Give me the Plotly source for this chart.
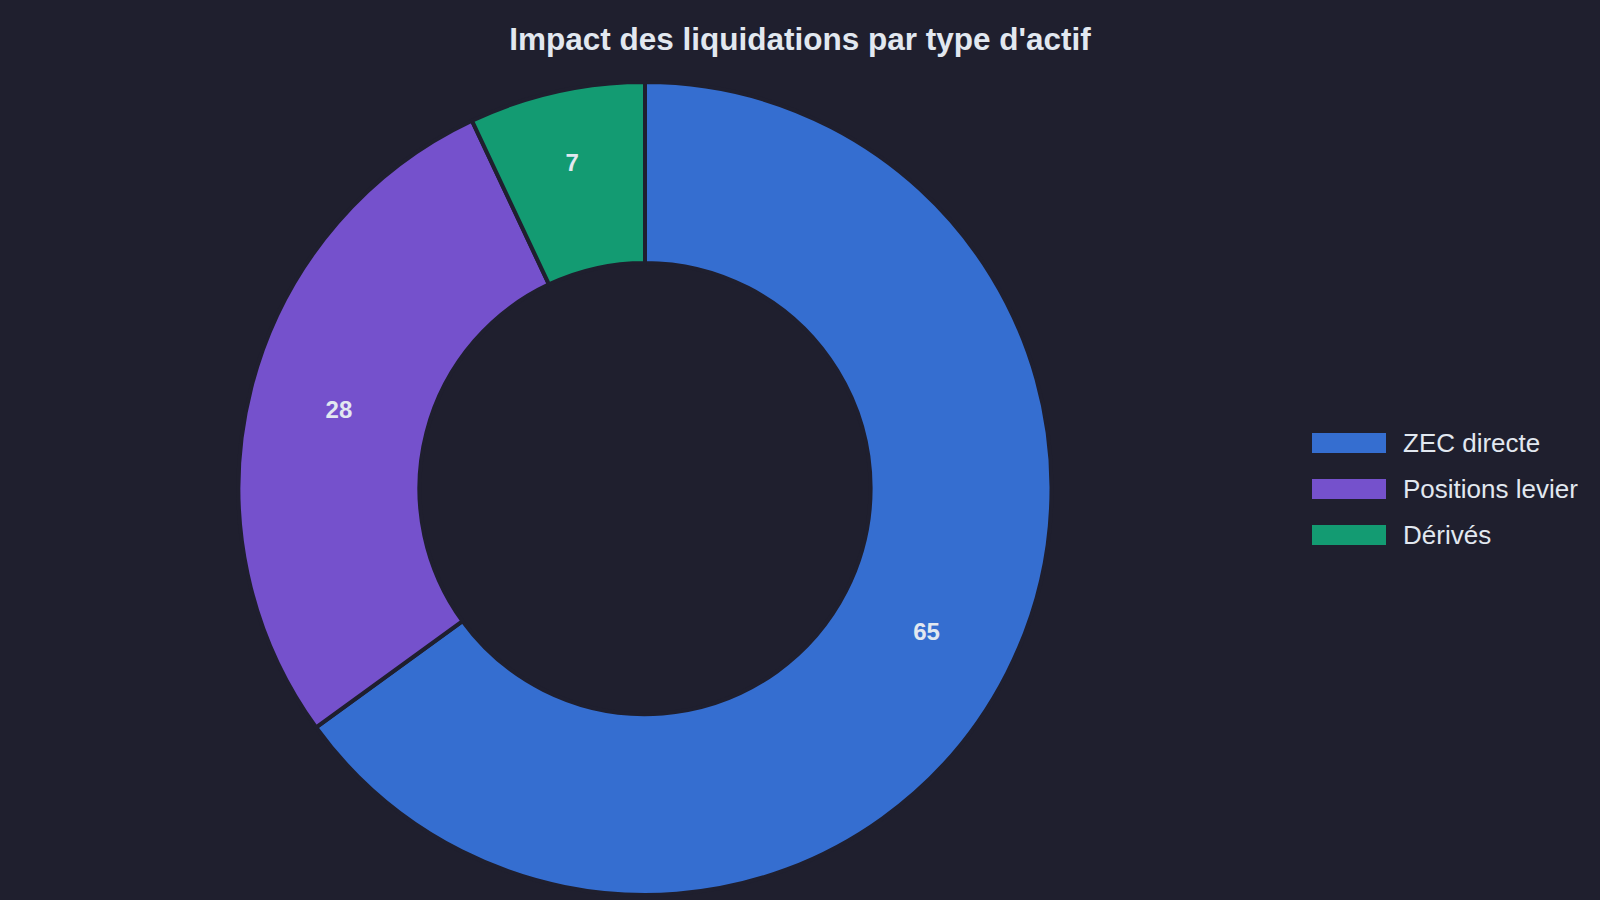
import plotly.graph_objects as go

labels = ["ZEC directe", "Positions levier", "Dérivés"]
values = [65, 28, 7]
colors = ["#356ed0", "#7551cc", "#139b72"]

bg = "#1f1f2e"
txt = "#e2e8f0"
font_family = "Liberation Sans, Arial, sans-serif"

fig = go.Figure()
fig.add_trace(go.Pie(
    labels=labels,
    values=values,
    hole=0.555,
    sort=False,
    direction="clockwise",
    rotation=0,
    marker=dict(colors=colors, line=dict(color=bg, width=4)),
    textinfo="value",
    textposition="inside",
    insidetextorientation="horizontal",
    textfont=dict(family=font_family, size=24, color=txt, weight="bold"),
    domain=dict(x=[0, 0.80625], y=[0, 1]),
    showlegend=False,
))

# legend drawn by hand: wide colour swatches beside the labels
H, T, B = 900, 82, 5
plot_h = H - T - B
for i, (lab, col) in enumerate(zip(labels, colors)):
    yc = (H - B - (443 + 46 * i)) / plot_h
    half = 10 / plot_h
    fig.add_shape(type="rect", xref="paper", yref="paper",
                  x0=1312 / 1600, x1=1386 / 1600, y0=yc - half, y1=yc + half,
                  fillcolor=col, line=dict(width=0))
    fig.add_annotation(x=1401 / 1600, y=yc, xref="paper", yref="paper",
                       text=lab, showarrow=False, xanchor="left", yanchor="middle",
                       font=dict(family=font_family, size=26, color=txt))

fig.update_layout(
    width=1600, height=900,
    paper_bgcolor=bg, plot_bgcolor=bg,
    margin=dict(l=0, r=0, t=T, b=B),
    title=dict(text="<b>Impact des liquidations par type d'actif</b>",
               x=0.5, xanchor="center", y=1 - 39 / H, yanchor="middle",
               font=dict(family=font_family, size=31.5, color=txt)),
    font=dict(family=font_family, color=txt),
)

fig.write_html("out.html", config={"displayModeBar": False},
               post_script="document.body.style.margin='0';")
